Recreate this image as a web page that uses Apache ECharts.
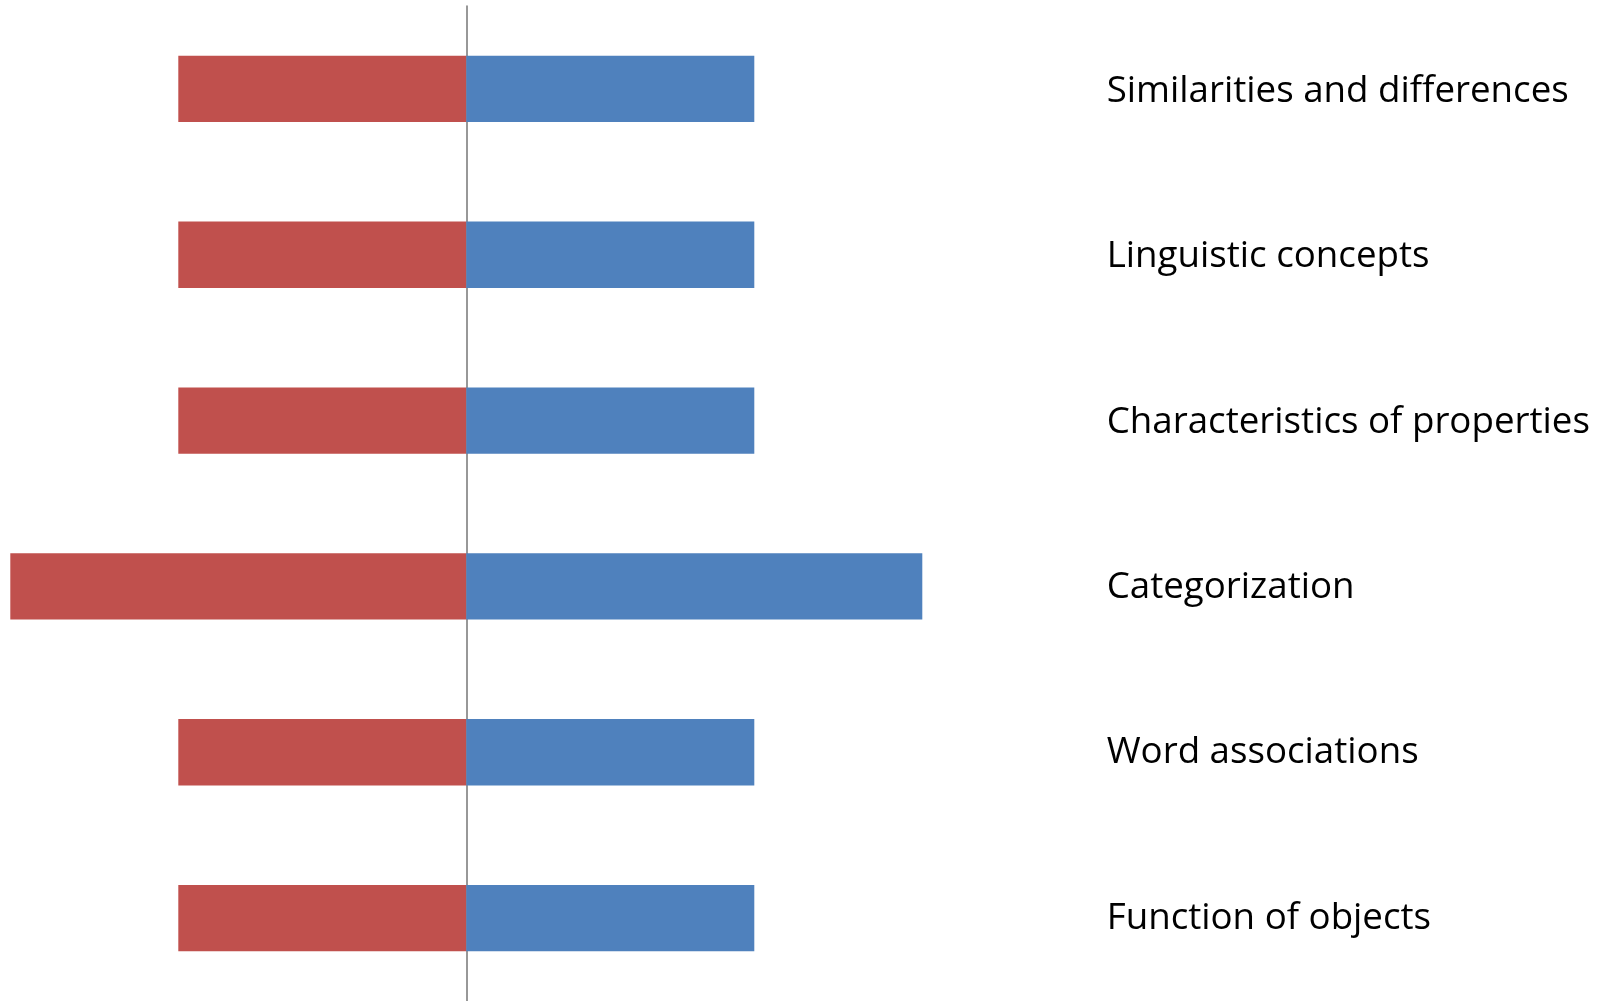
<!DOCTYPE html>
<html>
<head>
<meta charset="utf-8">
<script src="https://cdn.jsdelivr.net/npm/echarts@6/dist/echarts.min.js"></script>
<style>
html,body{margin:0;padding:0;background:#fff;}
#chart{width:1616px;height:1001px;}
</style>
</head>
<body>
<div id="chart"></div>
<script>
const categories = ['Similarities and differences', 'Linguistic concepts', 'Characteristics of properties', 'Categorization', 'Word associations', 'Function of objects'];
const leftValues = [12, 12, 12, 19, 12, 12];
const rightValues = [12, 12, 12, 19, 12, 12];
const axisMax = 19;

const chart = echarts.init(document.getElementById('chart'), null, {renderer: 'canvas'});
chart.setOption({
  animation: false,
  backgroundColor: '#ffffff',
  grid: [
    {left: 10.3, right: 693.7, top: 6, bottom: -1, containLabel: false},
    {left: 10.3, right: 693.7, top: 8.6, bottom: -3.6, containLabel: false}
  ],
  xAxis: [{
    gridIndex: 0, type: 'value', min: -axisMax, max: axisMax, show: false
  }, {
    gridIndex: 1, type: 'value', min: -axisMax, max: axisMax, show: false
  }],
  yAxis: [{
    gridIndex: 0, type: 'category', data: categories, inverse: true,
    axisLine: {show: true, onZero: true, lineStyle: {color: '#868686', width: 1.7}},
    axisTick: {show: false},
    axisLabel: {show: false},
    splitLine: {show: false}
  }, {
    gridIndex: 1, type: 'category', data: categories, inverse: true, position: 'right',
    axisLine: {show: false, onZero: false},
    axisTick: {show: false},
    splitLine: {show: false},
    axisLabel: {
      show: true, margin: 184.4, align: 'left',
      fontFamily: 'Open Sans', fontSize: 36.7, color: '#000000'
    }
  }],
  series: [{
    name: 'left', type: 'bar', stack: 'total', barWidth: '40%',
    xAxisIndex: 0, yAxisIndex: 0,
    data: leftValues.map(v => -v),
    itemStyle: {color: '#C0504D'}, z: 1
  }, {
    name: 'right', type: 'bar', stack: 'total', barWidth: '40%',
    xAxisIndex: 0, yAxisIndex: 0,
    data: rightValues,
    itemStyle: {color: '#4F81BD'}, z: 1
  }]
});
</script>
</body>
</html>
